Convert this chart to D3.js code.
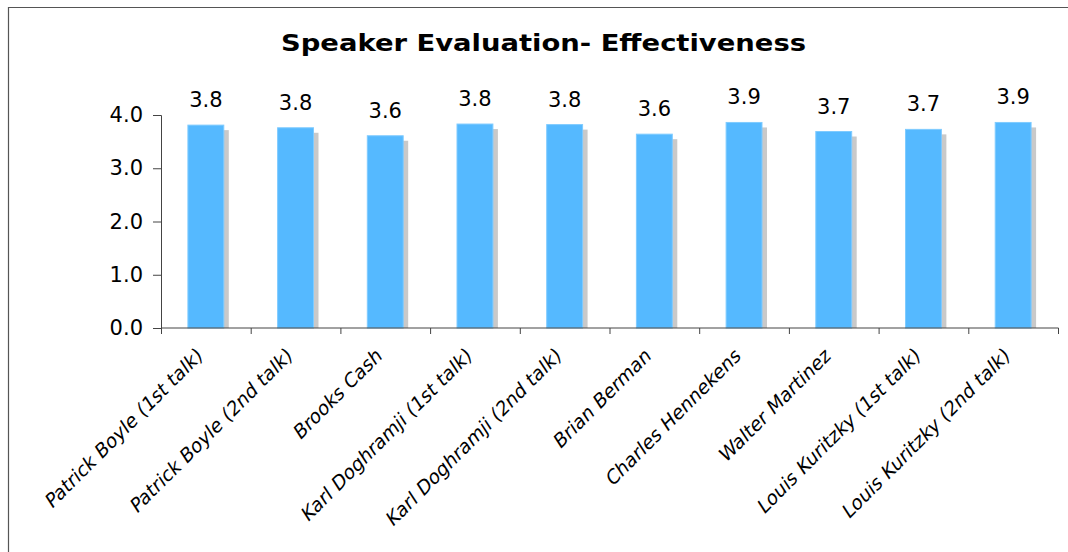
<!DOCTYPE html>
<html>
<head>
<meta charset="utf-8">
<script src="https://cdn.jsdelivr.net/npm/d3@7"></script>
<style>
  body { margin: 0; background: #fff; }
  svg { display: block; }
  text { font-family: "DejaVu Sans", Verdana, sans-serif; fill: #000; }
</style>
</head>
<body>
<div id="main"></div>
<script>
// Data
const speakers = [
  'Patrick Boyle (1st talk)', 'Patrick Boyle (2nd talk)', 'Brooks Cash',
  'Karl Doghramji (1st talk)', 'Karl Doghramji (2nd talk)', 'Brian Berman',
  'Charles Hennekens', 'Walter Martinez', 'Louis Kuritzky (1st talk)',
  'Louis Kuritzky (2nd talk)'
];
const scores = [3.81, 3.76, 3.61, 3.83, 3.82, 3.64, 3.86, 3.69, 3.73, 3.86];
const yTicks = [0, 1, 2, 3, 4];

const w = 1068;
const h = 552;

const svg = d3.select('div#main')
  .append('svg')
  .attr('width', w)
  .attr('height', h);

// Frame (top and left edges)
svg.append('path')
  .attr('d', 'M8.5,' + h + 'V7.5H' + w)
  .attr('fill', 'none')
  .attr('stroke', '#555')
  .attr('stroke-width', 1.2);

// Title
svg.append('text')
  .attr('x', 281)
  .attr('y', 51)
  .attr('textLength', 525)
  .attr('lengthAdjust', 'spacingAndGlyphs')
  .style('font-weight', 'bold')
  .style('font-size', '23px')
  .text('Speaker Evaluation- Effectiveness');

// Scales
const x = d3.scaleBand()
  .domain(speakers)
  .range([161, 1058])
  .paddingInner(0.6)
  .paddingOuter(0.3);

const y = d3.scaleLinear()
  .domain([0, 4])
  .range([328, 115]);

const band = d3.scaleBand().domain(speakers).range([161, 1058]);

// Shadows
svg.append('g')
  .selectAll('rect')
  .data(scores)
  .join('rect')
  .attr('x', (d, i) => x(speakers[i]) + 5)
  .attr('y', d => y(d) + 5)
  .attr('width', x.bandwidth())
  .attr('height', d => 328 - y(d) - 5)
  .attr('fill', '#c9c9c9');

// Bars
svg.append('g')
  .selectAll('rect')
  .data(scores)
  .join('rect')
  .attr('x', (d, i) => x(speakers[i]))
  .attr('y', d => y(d))
  .attr('width', x.bandwidth())
  .attr('height', d => 328 - y(d))
  .attr('fill', '#55b9ff')
  .attr('stroke', '#7fcbff')
  .attr('stroke-width', 1);

// Value labels
svg.append('g')
  .selectAll('text')
  .data(scores)
  .join('text')
  .attr('x', (d, i) => x(speakers[i]) + x.bandwidth() / 2)
  .attr('y', d => y(d) - 18)
  .attr('text-anchor', 'middle')
  .style('font-size', '21px')
  .text(d => d.toFixed(1));

// Y axis
const yAxis = svg.append('g')
  .attr('transform', 'translate(161,0)')
  .call(d3.axisLeft(y).tickValues(yTicks).tickFormat(d3.format('.1f')).tickSize(8).tickPadding(10));
yAxis.selectAll('path, line').attr('stroke', '#444');
yAxis.selectAll('text')
  .style('font-family', '"DejaVu Sans", Verdana, sans-serif')
  .style('font-size', '21px')
  .attr('fill', '#000');

// X axis
const xAxis = svg.append('g')
  .attr('transform', 'translate(0,328)')
  .call(d3.axisBottom(band).tickSize(0).tickFormat(''));
xAxis.select('path').attr('stroke', '#444').attr('d', 'M161.5,0H1058.5V6');
xAxis.selectAll('.tick').remove();
xAxis.selectAll('line.sep')
  .data(speakers)
  .join('line')
  .attr('class', 'sep')
  .attr('x1', d => band(d) + 0.5)
  .attr('x2', d => band(d) + 0.5)
  .attr('y1', 0)
  .attr('y2', 6)
  .attr('stroke', '#444');

// Category labels
svg.append('g')
  .selectAll('text')
  .data(speakers)
  .join('text')
  .attr('transform', d => 'translate(' + (band(d) + band.bandwidth() / 2 - 6) + ',352) rotate(-45) skewX(-12)')
  .attr('text-anchor', 'end')
  .attr('dy', '0.35em')
  .style('font-size', '19px')
  .text(d => d);
</script>
</body>
</html>
